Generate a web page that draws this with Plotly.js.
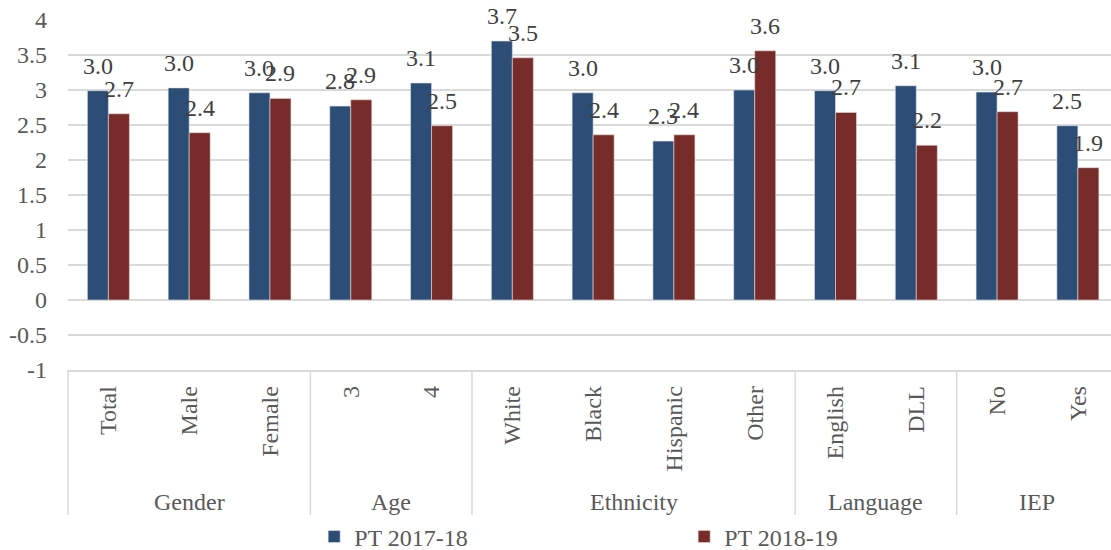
<!DOCTYPE html>
<html>
<head>
<meta charset="utf-8">
<script src="https://cdn.plot.ly/plotly-3.0.1.min.js"></script>
<style>
html,body{margin:0;padding:0;background:#fff;}
#chart{width:1111px;height:550px;}
</style>
</head>
<body>
<div id="chart"></div>
<script>
// ---- data ----
var categories = ["Total","Male","Female","3","4","White","Black","Hispanic","Other","English","DLL","No","Yes"];
var groupNames = ["Gender","Age","Ethnicity","Language","IEP"];
var groupSizes = [3,2,4,2,2];
var series1Name = "PT 2017-18";
var series2Name = "PT 2018-19";
var series1 = [2.99,3.03,2.96,2.77,3.10,3.70,2.96,2.27,3.00,2.99,3.06,2.97,2.49];
var series2 = [2.66,2.39,2.88,2.86,2.49,3.46,2.36,2.36,3.56,2.68,2.21,2.69,1.89];
var yTicks = [-1,-0.5,0,0.5,1,1.5,2,2.5,3,3.5,4];
var yTickText = ["-1","-0.5","0","0.5","1","1.5","2","2.5","3","3.5","4"];

// ---- style ----
var FONT = "'Liberation Serif', 'Times New Roman', serif";
var C1 = "#2C4D75", C2 = "#772C2A";
var xRange = [-0.5, 12.41];
var offset = 0.13; // half of bar width in category units (for label positions)

var idx = categories.map(function(_, i){ return i; });

var traces = [
  {type:"bar", name:series1Name, x:idx, y:series1, marker:{color:C1, line:{color:"#dfe3ea", width:0.6}}, hoverinfo:"y"},
  {type:"bar", name:series2Name, x:idx, y:series2, marker:{color:C2, line:{color:"#e6d8d8", width:0.6}}, hoverinfo:"y"}
];

var annotations = [];
// data labels
[series1, series2].forEach(function(s, k){
  s.forEach(function(v, i){
    annotations.push({
      x: i + (k === 0 ? -offset : offset), y: v, xref:"x", yref:"y",
      text: v.toFixed(1), showarrow:false, yanchor:"middle", yshift:25,
      font:{family:FONT, size:24, color:"#404040"}
    });
  });
});

// group labels & dividers
var shapes = [];
var span = xRange[1] - xRange[0];
function px(xv){ return (xv - xRange[0]) / span; }
var start = 0;
shapes.push({type:"line", xref:"paper", yref:"paper", x0:px(-0.5), x1:px(-0.5), y0:0, y1:-0.414, line:{color:"#d9d9d9", width:1.5}});
groupSizes.forEach(function(n, g){
  var center = start + (n - 1) / 2;
  annotations.push({
    x: center, y: -0.377, xref:"x", yref:"paper", text: groupNames[g], showarrow:false,
    yanchor:"middle", font:{family:FONT, size:24, color:"#595959"}
  });
  var end = start + n - 0.5;
  if (end < xRange[1]) {
    shapes.push({type:"line", xref:"paper", yref:"paper", x0:px(end), x1:px(end), y0:0, y1:-0.414, line:{color:"#d9d9d9", width:1.5}});
  }
  start += n;
});

var layout = {
  width:1111, height:550,
  margin:{l:68, r:0, t:20, b:180, autoexpand:false},
  paper_bgcolor:"#fff", plot_bgcolor:"#fff",
  barmode:"group", bargap:0.48, bargroupgap:0,
  font:{family:FONT, size:24, color:"#595959"},
  xaxis:{
    range:xRange, tickmode:"array", tickvals:idx, ticktext:categories,
    tickangle:-90, showgrid:false, zeroline:false, ticks:"",
    showline:true, linecolor:"#d9d9d9", linewidth:1.5, automargin:false,
    tickfont:{family:FONT, size:24, color:"#595959"}, ticklabelstandoff:5,
    fixedrange:true
  },
  yaxis:{
    range:[-1,4], tickmode:"array", tickvals:yTicks, ticktext:yTickText,
    showgrid:true, gridcolor:"#d9d9d9", gridwidth:1.5,
    zeroline:true, zerolinecolor:"#d9d9d9", zerolinewidth:1.5,
    showline:false, ticks:"", ticklabelstandoff:20, automargin:false,
    tickfont:{family:FONT, size:24, color:"#595959"}, fixedrange:true
  },
  showlegend:true,
  legend:{
    orientation:"h", x:0.236, xanchor:"left", y:-0.477, yanchor:"middle",
    entrywidth:325, entrywidthmode:"pixels",
    font:{family:FONT, size:24, color:"#595959"}, bgcolor:"rgba(0,0,0,0)"
  },
  annotations:annotations, shapes:shapes
};

Plotly.newPlot("chart", traces, layout, {displayModeBar:false, staticPlot:true});
</script>
</body>
</html>
